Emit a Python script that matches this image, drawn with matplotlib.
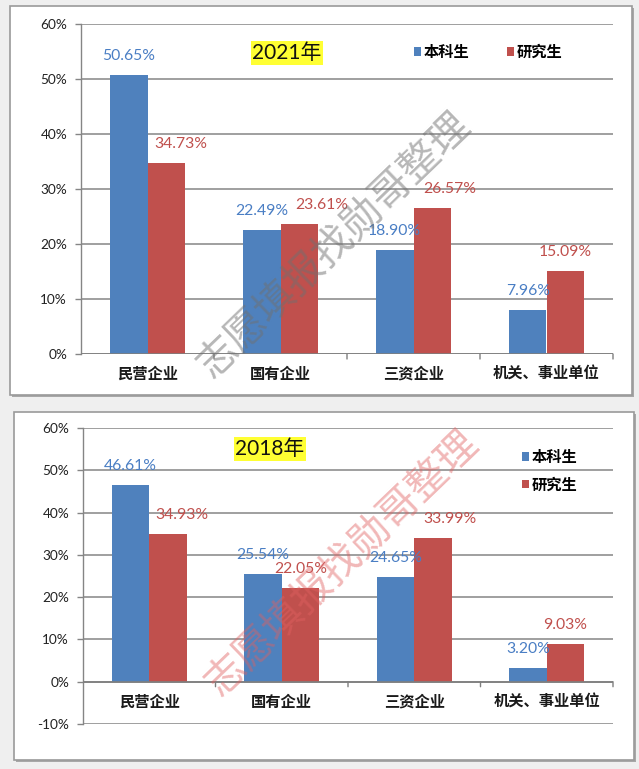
import matplotlib
matplotlib.use("Agg")
import matplotlib.pyplot as plt
from matplotlib.patches import Rectangle, Patch
from matplotlib.ticker import FuncFormatter, MultipleLocator

# ---------------- data ----------------
categories = ["民营企业", "国有企业", "三资企业", "机关、事业单位"]
series_names = ["本科生", "研究生"]
values_2021_bachelor = [50.65, 22.49, 18.90, 7.96]
values_2021_graduate = [34.73, 23.61, 26.57, 15.09]
values_2018_bachelor = [46.61, 25.54, 24.65, 3.20]
values_2018_graduate = [34.93, 22.05, 33.99, 9.03]
titles = ["2021年", "2018年"]
watermark = "志愿填报找勋哥整理"

# ---------------- style ----------------
W, H = 639, 769
BLUE = "#4F81BD"
RED = "#C0504D"
BLUE_TXT = "#4A7EC4"
RED_TXT = "#C0504D"
GRID = "#858585"
NUM_FONT = ["Lato", "DejaVu Sans"]
CJK_FONT = ["Noto Sans CJK SC", "DejaVu Sans"]
MIX_FONT = ["Lato", "Noto Sans CJK SC", "DejaVu Sans"]

fig = plt.figure(figsize=(W / 100, H / 100), dpi=100)
fig.patch.set_facecolor("#EFEFEF")


def frame(x0, y0, x1, y1):
    # shadow
    fig.patches.append(Rectangle((x0 + 2, H - y1 - 2), x1 - x0, y1 - y0,
                                 transform=None, facecolor="#A8A8A8",
                                 edgecolor="none", zorder=-3))
    fig.patches.append(Rectangle((x0, H - y1), x1 - x0, y1 - y0,
                                 transform=None, facecolor="white",
                                 edgecolor="#9A9A9A", linewidth=1.2, zorder=-2))


def px_axes(x0, y_top, x1, y_bot):
    return fig.add_axes([x0 / W, 1 - y_bot / H, (x1 - x0) / W, (y_bot - y_top) / H])


def draw_panel(ax, bach, grad, ymin, title, title_xy, red_dx, legend_cfg,
               wm_xy, wm_color, wm_alpha):
    ax.set_facecolor("none")
    n = len(categories)
    xs = list(range(n))
    bw = 0.283
    bx = [x - bw / 2 for x in xs]
    rx = [x + bw / 2 for x in xs]
    bv = [v / 100 for v in bach]
    rv = [v / 100 for v in grad]
    ax.bar(bx, bv, width=bw, color=BLUE, zorder=3, label=series_names[0])
    ax.bar(rx, rv, width=bw, color=RED, zorder=3, label=series_names[1])

    ax.set_xlim(-0.5, n - 0.5)
    ax.set_ylim(ymin, 0.6)
    ax.yaxis.set_major_locator(MultipleLocator(0.1))
    ax.yaxis.set_major_formatter(FuncFormatter(lambda v, p: f"{v * 100:.0f}%"))
    ax.grid(axis="y", color=GRID, linewidth=1.1, zorder=1)
    ax.set_axisbelow(True)
    for s in ["top", "right", "bottom"]:
        ax.spines[s].set_visible(False)
    ax.spines["left"].set_color(GRID)
    ax.spines["left"].set_linewidth(1.0)
    ax.tick_params(axis="y", length=4, width=1.0, color=GRID, pad=6,
                   labelsize=9.8, labelcolor="#222222")
    for lab in ax.get_yticklabels():
        lab.set_fontfamily(NUM_FONT)
    ax.set_xticks([])

    # category axis line at 0 with boundary ticks
    ax.axhline(0, color="#7F7F7F", linewidth=1.2, zorder=4)
    for b in [x + 0.5 for x in xs]:
        ax.annotate("", xy=(b, 0), xytext=(0, -5), textcoords="offset pixels",
                    xycoords="data",
                    arrowprops=dict(arrowstyle="-", color="#7F7F7F", lw=1.0,
                                    shrinkA=0, shrinkB=0))
    for x, c in zip(xs, categories):
        ax.annotate(c, xy=(x, 0), xytext=(0, -20), textcoords="offset pixels",
                    ha="center", va="center", fontsize=11, fontweight="heavy",
                    family=CJK_FONT, color="#1A1A1A")

    # data labels
    for x, v in zip(bx, bv):
        ax.annotate(f"{v * 100:.2f}%", xy=(x, v), xytext=(0, 19),
                    textcoords="offset pixels", ha="center", va="center",
                    fontsize=11.3, color=BLUE_TXT, family=NUM_FONT, zorder=5)
    for x, v, dx in zip(rx, rv, red_dx):
        ax.annotate(f"{v * 100:.2f}%", xy=(x, v), xytext=(dx, 19),
                    textcoords="offset pixels", ha="center", va="center",
                    fontsize=11.3, color=RED_TXT, family=NUM_FONT, zorder=5)

    # title
    fig.text(title_xy[0] / W, 1 - title_xy[1] / H, title, ha="center", va="center",
             fontsize=15, family=MIX_FONT, color="#111111",
             bbox=dict(boxstyle="square,pad=0.08", facecolor="#FFFF33",
                       edgecolor="none"))

    # legend
    handles = [Patch(facecolor=BLUE), Patch(facecolor=RED)]
    leg = ax.legend(handles, series_names, loc=legend_cfg["loc"],
                    bbox_to_anchor=(legend_cfg["xy"][0] / W, 1 - legend_cfg["xy"][1] / H),
                    bbox_transform=fig.transFigure, ncol=legend_cfg["ncol"],
                    frameon=False, handlelength=0.45, handleheight=0.45,
                    handletextpad=0.15, columnspacing=legend_cfg["colsp"],
                    labelspacing=legend_cfg["labsp"], borderpad=0, borderaxespad=0,
                    prop=dict(family=CJK_FONT, weight="heavy", size=11))
    leg.set_zorder(6)

    # watermark
    fig.text(wm_xy[0] / W, 1 - wm_xy[1] / H, watermark, ha="center", va="center",
             rotation=44, fontsize=29, family=CJK_FONT, fontweight="medium",
             color=wm_color, alpha=wm_alpha, zorder=10)


# top panel (2021)
frame(10, 6, 632, 395)
ax1 = px_axes(81, 24, 613, 354)
draw_panel(ax1, values_2021_bachelor, values_2021_graduate, 0.0, titles[0], (287, 53),
           [15, 22, 17, 0],
           dict(loc="center left", xy=(414, 52), ncol=2, colsp=2.5, labsp=0.5),
           (334, 244), "#707070", 0.5)

# bottom panel (2018)
frame(14, 412, 634, 760)
ax2 = px_axes(83, 428, 613, 724)
draw_panel(ax2, values_2018_bachelor, values_2018_graduate, -0.1, titles[1], (270, 449),
           [14, 0, 17, 0],
           dict(loc="upper left", xy=(522, 449), ncol=1, colsp=1.0, labsp=0.75),
           (342, 562), "#E06060", 0.45)

fig.savefig("out.png", dpi=100, facecolor=fig.get_facecolor())
